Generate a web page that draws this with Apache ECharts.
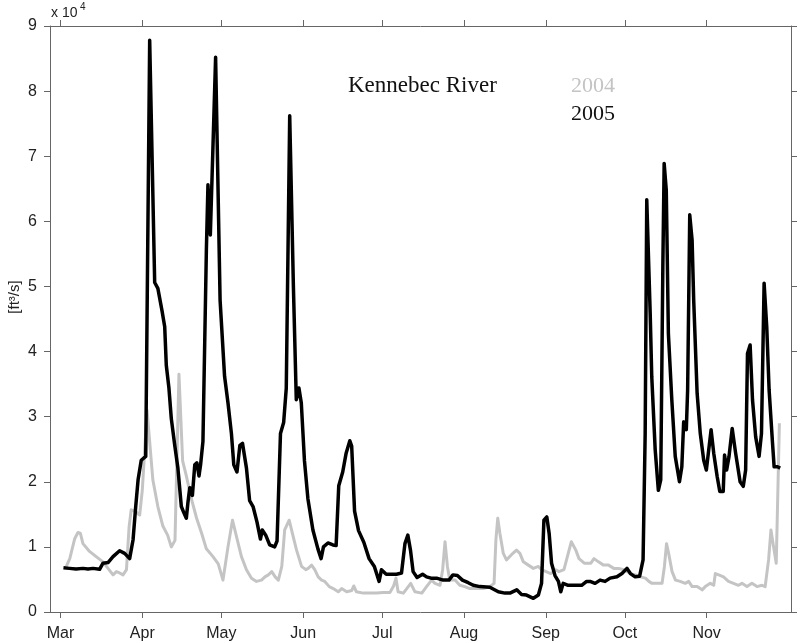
<!DOCTYPE html>
<html>
<head>
<meta charset="utf-8">
<script src="https://cdn.jsdelivr.net/npm/echarts@6/dist/echarts.min.js"></script>
<style>
html,body{margin:0;padding:0;background:#fff;}
#chart{width:800px;height:643px;}
</style>
</head>
<body>
<div id="chart"></div>
<script>
// Day of year (2005 calendar, Mar 1 = 60)
const monthDays = [60, 91, 121, 152, 182, 213, 244, 274, 305];
const monthLabels = ['Mar', 'Apr', 'May', 'Jun', 'Jul', 'Aug', 'Sep', 'Oct', 'Nov'];
const yTicks = [0, 1, 2, 3, 4, 5, 6, 7, 8, 9];

// Discharge, units of 10^4 ft^3/s
const days2005 = [61.1,63.4,65.9,68.5,70.4,72.3,74.8,76.1,78,79.9,
82.4,84.3,86.2,87.5,88.5,89.4,90.6,92.3,93.8,95.7,
96.9,98.5,99.5,100.1,101.1,102,103.3,104.5,105.8,106.7,
107.7,108.3,109,110,110.9,111.7,112.5,113.1,114,115.3,
115.9,116.8,117.8,118.8,120.5,122.2,123.5,124.8,125.7,126.9,
128,129,130.5,131.7,133,134.5,135.8,136.5,137.8,139.3,
141.2,142.1,143.4,144.6,145.6,146.9,148.3,149.4,150.4,151.3,
152.5,153.8,155.7,157.6,158.8,159.7,161.4,163.3,164.5,165.5,
167,168.3,169.7,170.4,171.5,173,175,177,179,180.8,
181.7,183.5,187.4,189.3,190.6,191.7,192.7,193.7,195.2,197.3,
198.8,200.5,202.6,205.1,207.3,208.8,210.5,212.4,214.6,216.5,
219,222.8,226,228.5,230.4,233,234.8,236.7,239.3,241.2,
242.4,243.3,244.4,245.3,246.2,247.5,248.8,249.7,250.6,252.5,
255,257.6,259.5,260.8,262.7,264.6,266.5,268.4,271,272.9,
274.8,276.1,277.9,279.6,280.9,281.7,282.3,283,283.6,284.2,
285.5,286.7,287.6,288.4,288.9,289.7,290.5,291.8,293.1,294.7,
295.6,296.3,297.3,297.8,298.6,299.5,300.1,301.4,302.6,303.9,
304.9,305.8,306.7,307.7,309,310,311.3,311.8,312.6,313.5,
314.7,316,317.7,318.9,319.8,320.5,321.5,322.4,323.6,324.9,
325.8,326.8,327.8,328.7,330,330.6,331.9,332.9];
const flow2005 = [0.68,0.67,0.66,0.67,0.66,0.67,0.655,0.75,0.76,0.85,
0.94,0.90,0.82,1.11,1.62,2.03,2.33,2.39,8.78,5.06,
4.97,4.62,4.38,3.79,3.44,2.97,2.56,2.21,1.62,1.53,
1.44,1.68,1.91,1.79,2.26,2.29,2.09,2.26,2.62,5.56,
6.56,5.79,7.15,8.52,4.79,3.62,3.21,2.74,2.26,2.15,
2.56,2.59,2.21,1.71,1.62,1.38,1.12,1.26,1.18,1.03,
1.0,1.09,2.74,2.91,3.44,7.62,5.0,3.26,3.44,3.21,
2.32,1.74,1.26,0.97,0.82,1.0,1.06,1.03,1.02,1.94,
2.15,2.44,2.63,2.55,1.55,1.25,1.07,0.82,0.70,0.47,
0.65,0.58,0.58,0.60,1.05,1.18,0.95,0.62,0.53,0.58,
0.54,0.52,0.52,0.49,0.49,0.57,0.56,0.49,0.45,0.41,
0.39,0.38,0.31,0.29,0.29,0.34,0.27,0.26,0.21,0.26,
0.44,1.41,1.46,1.20,0.75,0.56,0.47,0.31,0.44,0.41,
0.41,0.41,0.47,0.47,0.44,0.49,0.47,0.52,0.54,0.59,
0.67,0.59,0.54,0.55,0.80,2.74,6.33,6.35,4.59,3.61,
2.49,1.87,2.03,5.30,6.89,6.48,4.28,3.26,2.39,2.0,
2.23,2.92,2.80,3.41,6.10,5.71,4.79,3.36,2.74,2.33,
2.18,2.49,2.80,2.44,2.08,1.85,1.85,2.41,2.18,2.39,
2.82,2.44,2.0,1.93,2.18,3.97,4.10,3.26,2.69,2.39,
2.74,5.05,4.38,3.41,2.59,2.23,2.23,2.21];

const days2004 = [62.2,63.5,65.4,66.6,67.5,68.5,71,73.5,76.1,78,
79.9,81.2,82.4,83.7,85,86,86.8,88.5,90,91,
92.8,95,96.9,98.8,100.6,102,102.6,103.4,104.9,106.3,
107.7,109.6,111.6,113.5,115.3,117.8,119.8,121.6,123.5,125.2,
126.7,128.6,130.5,132.4,134.3,136.2,137.5,138.8,140.1,141.4,
142.6,143.9,145,146.7,148.2,149.5,151.4,153,153.9,155.2,
156.4,157.7,159,160.2,161.9,163.4,165.3,166.6,168.5,170.4,
171.2,172.2,174.8,177.3,179.8,182.4,184.9,186.3,187.2,188,
190,192.8,194.4,197,198.8,200.7,202,203.9,204.9,205.8,
206.7,207.6,209.6,211.4,213.3,215.2,218.4,220.3,222.8,224.4,
225.1,225.8,226.6,227.9,229.1,231,232.9,234.2,235.5,237.4,
239.3,241.2,242.4,245.9,247.8,249,250.9,252.2,253.7,255.4,
256.6,258.6,261.1,262.3,264,265.9,267.8,269.8,271.6,273.6,
276.1,278,279.9,281.8,283.1,284.3,286.2,288.1,289,289.8,
290.6,291.9,293.2,295,296.9,298.2,299.5,301.4,303.3,304.5,
306.4,307.7,308.3,309.6,311.4,313.3,315.2,317.1,318.4,320.3,
322.2,324.1,326,327.2,328.5,329.4,330.4,331.4,332.6];
const flow2004 = [0.70,0.82,1.13,1.22,1.21,1.05,0.93,0.85,0.77,0.67,
0.57,0.62,0.60,0.57,0.65,1.31,1.57,1.54,1.49,1.87,
3.10,2.03,1.62,1.32,1.18,1.0,0.97,1.10,3.65,2.32,
2.09,1.74,1.44,1.21,0.97,0.85,0.74,0.49,1.0,1.41,
1.16,0.85,0.65,0.52,0.47,0.49,0.54,0.57,0.62,0.54,
0.49,0.70,1.26,1.41,1.16,0.95,0.70,0.65,0.67,0.72,
0.65,0.54,0.49,0.47,0.39,0.36,0.31,0.36,0.31,0.33,
0.40,0.31,0.29,0.29,0.29,0.30,0.30,0.40,0.52,0.31,
0.29,0.44,0.31,0.29,0.39,0.49,0.44,0.41,0.65,1.08,
0.70,0.49,0.49,0.41,0.39,0.36,0.36,0.36,0.39,0.44,
1.11,1.44,1.21,0.90,0.80,0.88,0.95,0.90,0.77,0.72,
0.67,0.70,0.65,0.59,0.65,0.62,0.65,0.85,1.08,0.95,
0.82,0.75,0.75,0.82,0.77,0.72,0.72,0.67,0.67,0.65,
0.59,0.57,0.54,0.52,0.47,0.44,0.44,0.44,0.70,1.05,
0.90,0.62,0.49,0.47,0.44,0.47,0.39,0.39,0.34,0.39,
0.44,0.41,0.59,0.57,0.54,0.47,0.44,0.41,0.44,0.39,
0.44,0.39,0.41,0.39,0.80,1.26,1.0,0.75,2.90];

const AX = '#666666';
const LBL = '#222222';
const sans = '"Liberation Sans", Arial, sans-serif';
const serif = '"Liberation Serif", "Times New Roman", serif';

const chart = echarts.init(document.getElementById('chart'), null, {renderer: 'canvas'});

function xAxisDef(pos, showLabel) {
  return {
    type: 'value', position: pos, min: 56, max: 337,
    axisLine: {show: true, onZero: false, lineStyle: {color: AX, width: 1}},
    axisTick: {show: true, inside: false, length: 6, customValues: monthDays, lineStyle: {color: AX, width: 1}},
    axisLabel: {show: showLabel, customValues: monthDays, margin: 14,
      formatter: v => monthLabels[monthDays.indexOf(v)],
      fontSize: 16, color: LBL, fontFamily: sans},
    splitLine: {show: false}
  };
}
function yAxisDef(pos, showLabel) {
  return {
    type: 'value', position: pos, min: 0, max: 9, interval: 1,
    axisLine: {show: true, onZero: false, lineStyle: {color: AX, width: 1}},
    axisTick: {show: true, inside: false, length: 6, lineStyle: {color: AX, width: 1}},
    axisLabel: {show: showLabel, margin: 13, fontSize: 16, color: LBL, fontFamily: sans,
      formatter: v => String(v)},
    splitLine: {show: false}
  };
}

chart.setOption({
  animation: false,
  backgroundColor: '#ffffff',
  grid: {left: 50, right: 9, top: 26, bottom: 31, containLabel: false},
  xAxis: [xAxisDef('bottom', true), xAxisDef('top', false)],
  yAxis: [yAxisDef('left', true), yAxisDef('right', false)],
  series: [
    {name: '2004', type: 'line', xAxisIndex: 0, yAxisIndex: 0, showSymbol: false, symbol: 'none',
     data: days2004.map((d, i) => [d, flow2004[i]]),
     lineStyle: {color: '#c4c4c4', width: 3, join: 'round'}, z: 2},
    {name: '2005', type: 'line', xAxisIndex: 0, yAxisIndex: 0, showSymbol: false, symbol: 'none',
     data: days2005.map((d, i) => [d, flow2005[i]]),
     lineStyle: {color: '#000000', width: 3.5, join: 'round'}, z: 3}
  ],
  graphic: [
    {type: 'text', x: 51, y: 13, style: {text: 'x 10', font: '14px ' + sans, fill: LBL, textAlign: 'left', textVerticalAlign: 'middle'}},
    {type: 'text', x: 80, y: 7, style: {text: '4', font: '10px ' + sans, fill: LBL, textAlign: 'left', textVerticalAlign: 'middle'}},
    {type: 'text', x: 15, y: 297, rotation: Math.PI / 2,
     style: {text: '[ft³/s]', font: '15px ' + sans, fill: LBL, textAlign: 'center', textVerticalAlign: 'middle'}},
    {type: 'text', x: 348, y: 86, style: {text: 'Kennebec River', font: '23px ' + serif, fill: '#111111', textAlign: 'left', textVerticalAlign: 'middle'}},
    {type: 'text', x: 571, y: 86, style: {text: '2004', font: '22px ' + serif, fill: '#c4c4c4', textAlign: 'left', textVerticalAlign: 'middle'}},
    {type: 'text', x: 571, y: 114, style: {text: '2005', font: '22px ' + serif, fill: '#111111', textAlign: 'left', textVerticalAlign: 'middle'}}
  ]
});
</script>
</body>
</html>
